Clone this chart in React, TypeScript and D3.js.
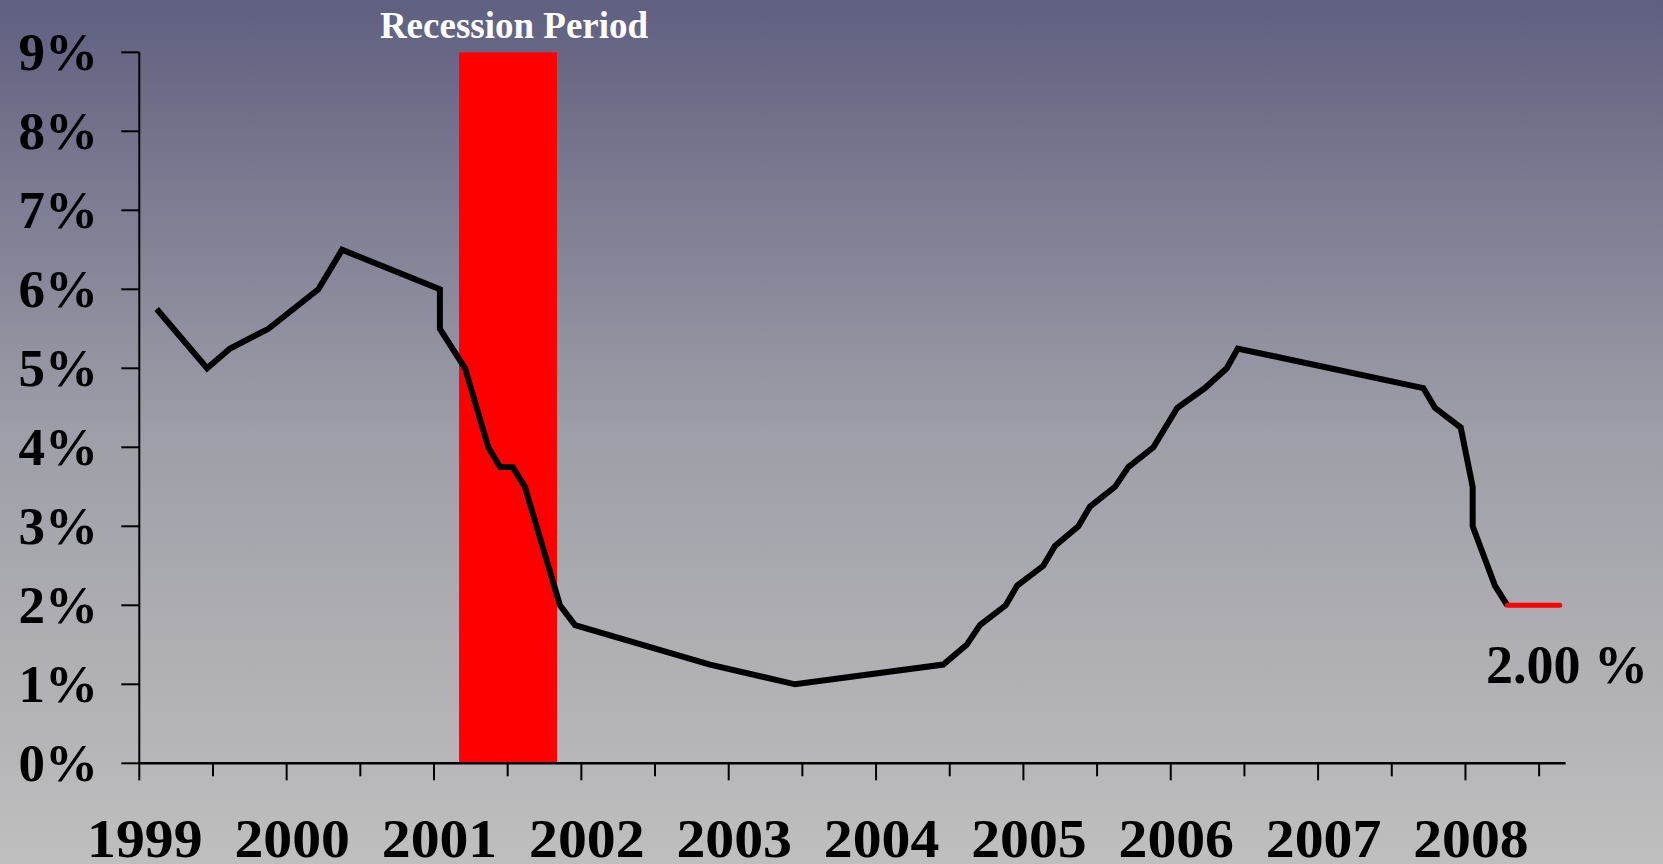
import React from "react";
import * as d3 from "d3";

const W = 1663;
const H = 864;

// Rate series (decimal year, percent)
const dates = [
  1999.118, 1999.46, 1999.616, 1999.876, 2000.215, 2000.376, 2001.04, 2001.04,
  2001.211, 2001.369, 2001.448, 2001.534, 2001.617, 2001.855, 2001.957,
  2002.873, 2003.45, 2004.456, 2004.615, 2004.705, 2004.88, 2004.958,
  2005.135, 2005.214, 2005.373, 2005.452, 2005.622, 2005.712, 2005.882,
  2006.045, 2006.232, 2006.38, 2006.455, 2007.714, 2007.793, 2007.968,
  2008.049, 2008.049, 2008.2, 2008.284,
];
const rates = [
  5.75, 5.0, 5.25, 5.5, 6.0, 6.5, 6.0, 5.5,
  5.0, 4.0, 3.75, 3.75, 3.5, 2.0, 1.75,
  1.25, 1.0, 1.25, 1.5, 1.75, 2.0, 2.25,
  2.5, 2.75, 3.0, 3.25, 3.5, 3.75, 4.0,
  4.5, 4.75, 5.0, 5.25, 4.75, 4.5, 4.25,
  3.5, 3.0, 2.25, 2.0,
];

// Current rate (red segment)
const currentDates = [2008.284, 2008.64];
const currentRates = [2.0, 2.0];
const currentLabel = "2.00 %";

// Recession shading
const recessionStart = 2001.17;
const recessionEnd = 2001.835;
const recessionLabel = "Recession Period";

const yearTicks = [1999, 2000, 2001, 2002, 2003, 2004, 2005, 2006, 2007, 2008];
const halfYearTicks = [1999.5, 2000.5, 2001.5, 2002.5, 2003.5, 2004.5, 2005.5, 2006.5, 2007.5, 2008.5];
const yTicks = [0, 1, 2, 3, 4, 5, 6, 7, 8, 9];

const FONT = "'Liberation Serif', 'Times New Roman', Times, serif";

export default function App() {
  const x = d3.scaleLinear().domain([1999, 2009]).range([139.3, 139.3 + 10 * 147.35]);
  const y = d3.scaleLinear().domain([0, 9]).range([763.3, 52.3]);
  const axisEnd = 2008.68;

  const pts: [number, number][] = dates.map((d, i) => [d, rates[i]]);
  const cur: [number, number][] = currentDates.map((d, i) => [d, currentRates[i]]);
  const line = d3
    .line<[number, number]>()
    .x((d) => x(d[0]))
    .y((d) => y(d[1]));

  return (
    <>
      <style>{`body{margin:0;} svg{display:block;}`}</style>
      <svg width={W} height={H} style={{ fontFamily: FONT }}>
        <defs>
          <linearGradient id="bg" x1="0" y1="0" x2="0" y2="1">
            <stop offset="0" stopColor="#5f5f80" />
            <stop offset="0.5" stopColor="#9e9ea8" />
            <stop offset="1" stopColor="#bfbfbf" />
          </linearGradient>
        </defs>
        <rect x={0} y={0} width={W} height={H} fill="url(#bg)" />

        {/* Recession bar */}
        <rect
          x={x(recessionStart)}
          y={y(9)}
          width={x(recessionEnd) - x(recessionStart)}
          height={y(0) - y(9)}
          fill="#ff0000"
        />
        <text
          x={514}
          y={38}
          textAnchor="middle"
          fontSize={37}
          fontWeight="bold"
          fill="#ffffff"
        >
          {recessionLabel}
        </text>

        {/* Axes */}
        <line x1={x(1999)} x2={x(1999)} y1={y(9)} y2={y(0)} stroke="#000" strokeWidth={2} />
        <line x1={x(1999)} x2={x(axisEnd)} y1={y(0)} y2={y(0)} stroke="#000" strokeWidth={2.5} />
        {yTicks.map((t) => (
          <g key={"y" + t}>
            <line x1={x(1999) - 18} x2={x(1999)} y1={y(t)} y2={y(t)} stroke="#000" strokeWidth={2} />
            <text
              x={98}
              y={y(t) + 17.5}
              textAnchor="end"
              fontSize={53}
              fontWeight="bold"
              fill="#000"
            >
              {t + "%"}
            </text>
          </g>
        ))}
        {yearTicks.map((t) => (
          <g key={"x" + t}>
            <line x1={x(t)} x2={x(t)} y1={y(0)} y2={y(0) + 17} stroke="#000" strokeWidth={2} />
            <text
              transform={`translate(${x(t) + 5.5},857) scale(1.05,1)`}
              textAnchor="middle"
              fontSize={55}
              fontWeight="bold"
              fill="#000"
            >
              {String(t)}
            </text>
          </g>
        ))}
        {halfYearTicks.map((t) => (
          <line key={"h" + t} x1={x(t)} x2={x(t)} y1={y(0)} y2={y(0) + 13} stroke="#000" strokeWidth={2} />
        ))}

        {/* Rate line */}
        <path d={line(pts) || ""} fill="none" stroke="#000" strokeWidth={6} strokeLinejoin="miter" strokeLinecap="butt" />
        <path d={line(cur) || ""} fill="none" stroke="#ff0000" strokeWidth={5} strokeLinecap="round" />
        <text
          x={1486}
          y={683}
          textAnchor="start"
          fontSize={54}
          fontWeight="bold"
          fill="#000"
        >
          {currentLabel}
        </text>
      </svg>
    </>
  );
}
